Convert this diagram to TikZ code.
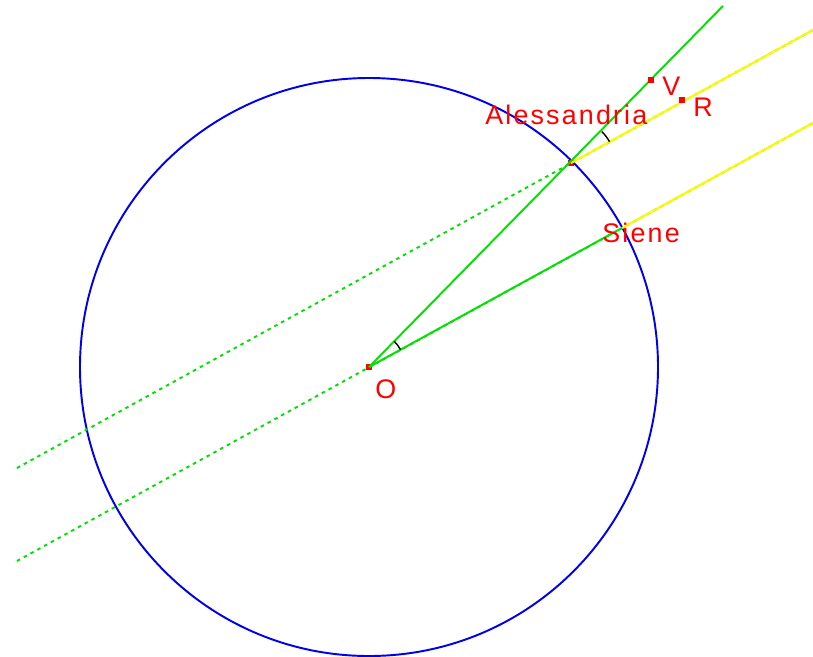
\documentclass[tikz,border=0pt]{standalone}
\usepackage{fontspec}
\setmainfont{Liberation Sans}
\usepackage{tikz}
\definecolor{earthblue}{RGB}{0,0,235}
\definecolor{raygreen}{RGB}{0,225,0}
\definecolor{sunyellow}{RGB}{250,250,0}

\begin{document}
\begin{tikzpicture}[x=0.02cm, y=-0.02cm,
  pt/.style={fill=red, inner sep=0pt, minimum size=0.12cm},
  lbl/.style={text=red, inner sep=0pt, anchor=base west,
    font=\fontsize{15.3}{18}\selectfont\addfontfeature{LetterSpace=8}},
  ray/.style={raygreen, line width=1.1pt},
  dotray/.style={raygreen, line width=1.1pt, dash pattern=on 2pt off 2.4pt},
  sunray/.style={sunyellow, line width=1.2pt}]
  \useasboundingbox (0,0) rectangle (813,656);

  % Points
  \node[pt] (O) at (369,367) {};
  \node[pt] (A) at (571,163) {};
  \coordinate (S) at (622,228);
  \coordinate (zenA) at (723,6);
  \coordinate (farA) at (17,468);
  \coordinate (sunA) at (813,30);
  \coordinate (farO) at (17,561);
  \coordinate (sunS) at (813,123);

  % Earth
  \draw[earthblue, line width=1.1pt] (O.center) circle[radius=289];

  % Sun rays (dotted part)
  \draw[dotray] (farA) -- (sunA);
  \draw[dotray] (farO) -- (sunS);

  % Sun rays (yellow part)
  \draw[sunray] (A.center) -- (sunA);
  \draw[sunray] (S) -- (sunS);

  % Verticals from the centre
  \draw[ray] (O.center) -- (zenA);
  \draw[ray] (O.center) -- (S);

  % Angles
  \draw[black, line width=0.8pt] (A.center) ++(-28.8:44) arc[start angle=-28.8, end angle=-45.5, radius=44];
  \draw[black, line width=0.8pt] (O.center) ++(-28.8:36) arc[start angle=-28.8, end angle=-45.5, radius=36];

  \node[pt] (V) at (651,80) {};
  \node[pt] (R) at (682,100) {};

  % Labels
  \node[lbl] (lA) at (485,124) {Alessandria};
  \node[lbl] (lS) at (602,242) {Siene};
  \node[lbl] (lO) at (375,398) {O};
  \node[lbl] (lV) at (662,95) {V};
  \node[lbl] (lR) at (693,116) {R};
\end{tikzpicture}
\end{document}
